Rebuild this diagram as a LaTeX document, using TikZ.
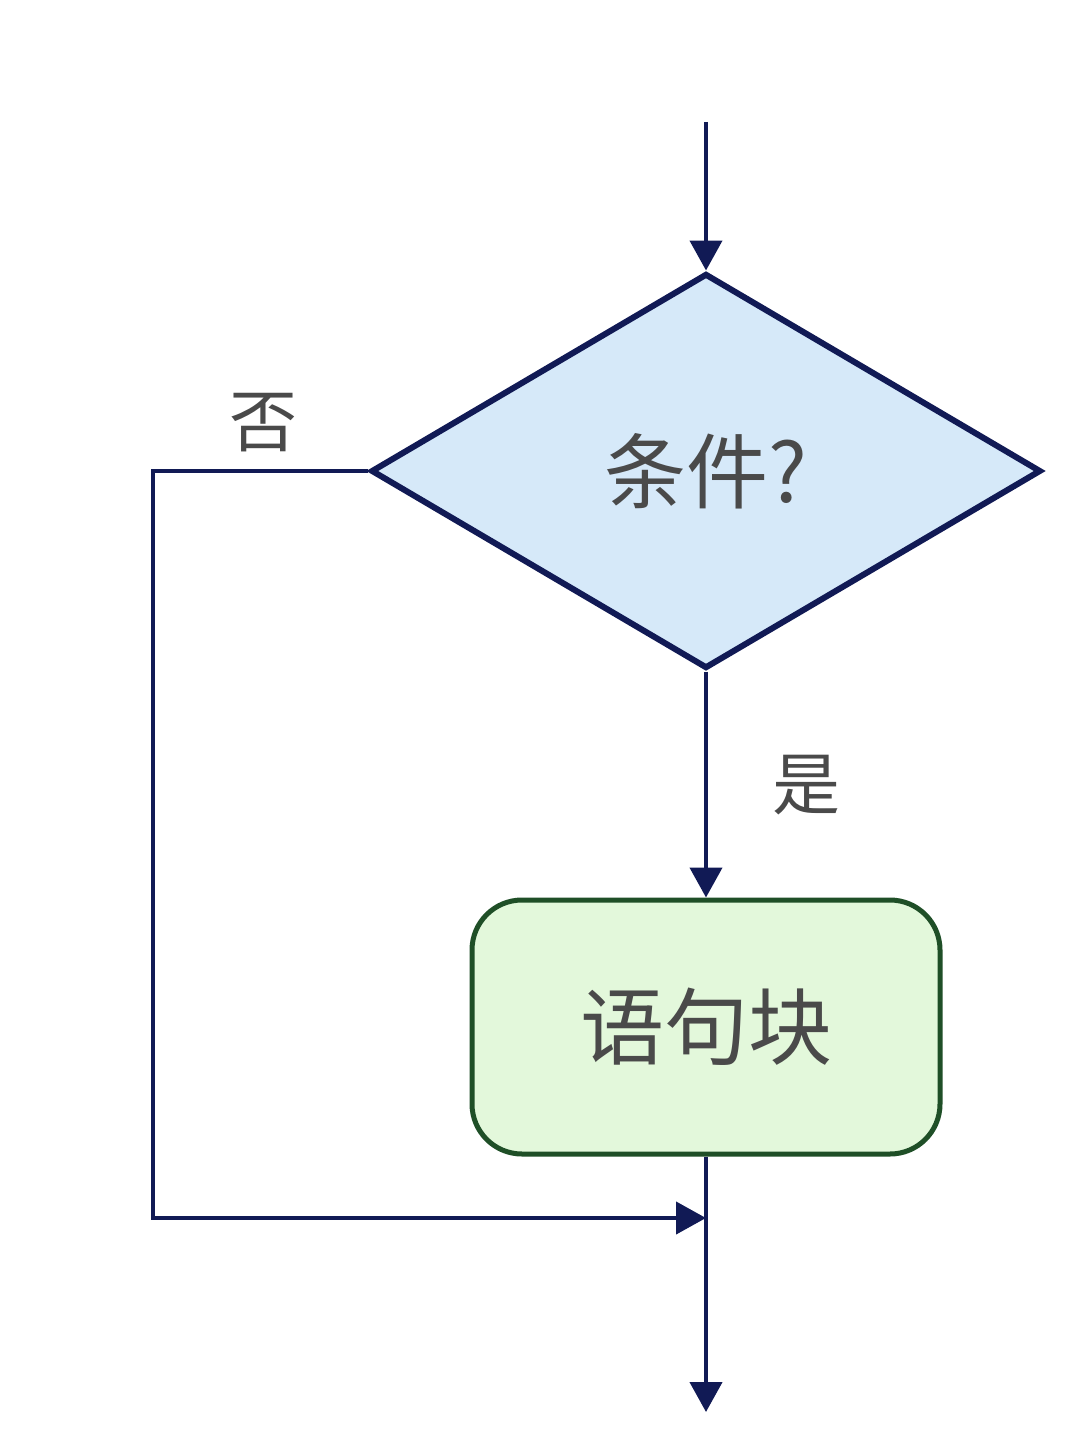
\documentclass[tikz,border=0pt]{standalone}
\usepackage{fontspec}
\newfontfamily\cjk{Noto Sans CJK SC}
\usetikzlibrary{shapes.geometric,arrows.meta}
\definecolor{navy}{HTML}{111A55}
\definecolor{condfill}{HTML}{D6E9F9}
\definecolor{blockfill}{HTML}{E3F8DB}
\definecolor{blockline}{HTML}{1F4F27}
\definecolor{txtgray}{HTML}{4A4A4A}
\begin{document}
\begin{tikzpicture}[x=1pt,y=-1pt,>={Triangle[length=30pt,width=32pt]},
	flow/.style={draw=navy,line width=4.2pt},
	cond/.style={diamond,draw=navy,line width=6pt,fill=condfill,inner sep=0pt,minimum width=670pt,minimum height=395pt,font=\cjk\fontsize{82}{90}\selectfont,text=txtgray},
	block/.style={rectangle,rounded corners=50pt,draw=blockline,line width=5pt,fill=blockfill,minimum width=468pt,minimum height=254pt,font=\cjk\fontsize{84}{92}\selectfont,text=txtgray},
	lbl/.style={font=\cjk\fontsize{68}{74}\selectfont,text=txtgray}]
	\useasboundingbox (0,0) rectangle (1080,1453);
	\node[cond] (ifcond) at (706,471) {条件?};
	\node[block] (body) at (706,1027) {语句块};
	\coordinate (entry) at (706,122);
	\coordinate (join) at (706,1218);
	\coordinate (turn) at (153,1218);
	\coordinate (exit) at (706,1412);
	\draw[flow,->] (entry) -- (ifcond.north);
	\draw[flow,->] (ifcond.south) -- (body.north);
	\draw[flow,->] (ifcond.west) -| (turn) -- (join);
	\draw[flow,->] (body.south) -- (exit);
	\node[lbl] (no) at (263,423) {否};
	\node[lbl] (yes) at (806,785) {是};
\end{tikzpicture}
\end{document}
